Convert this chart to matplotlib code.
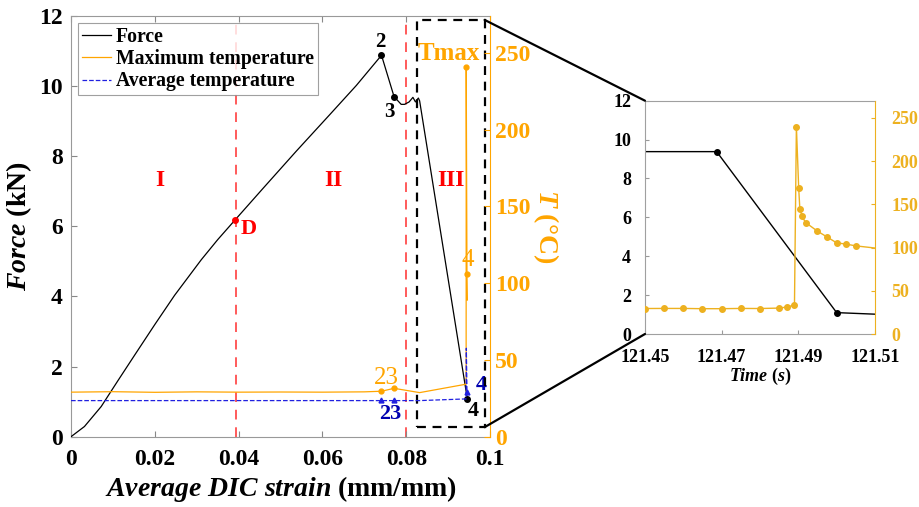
import numpy as np
import matplotlib
matplotlib.use('Agg')
import matplotlib.pyplot as plt
from matplotlib.patches import ConnectionPatch, Rectangle

plt.rcParams['font.family'] = ['Liberation Serif', 'DejaVu Serif']
plt.rcParams['font.weight'] = 'bold'
plt.rcParams['mathtext.fontset'] = 'custom'
plt.rcParams['mathtext.it'] = 'Liberation Serif:italic:bold'
plt.rcParams['mathtext.bf'] = 'Liberation Serif:bold'
plt.rcParams['mathtext.rm'] = 'Liberation Serif'

ORANGE = '#FFA500'
GOLD = '#EDB120'
BLUE = '#2020E0'
DBLUE = '#0000B0'
LRED = '#FF5A5A'

# force vs strain (main plot)
strain = [0, 0.0032, 0.0072, 0.0112, 0.0152, 0.0200, 0.0247, 0.0311, 0.0350, 0.0392,
          0.0458, 0.0538, 0.0617, 0.0681, 0.0741, 0.0771, 0.0788, 0.0796,
          0.0807, 0.0816, 0.0822, 0.0829, 0.0832, 0.0946]
force = [0, 0.29, 0.86, 1.60, 2.33, 3.20, 4.03, 5.05, 5.62, 6.19,
         7.08, 8.15, 9.18, 10.02, 10.88, 9.70, 9.48, 9.48,
         9.55, 9.68, 9.55, 9.66, 9.58, 1.07]

# maximum temperature vs strain
tmax_strain = [0, 0.01, 0.02, 0.03, 0.04, 0.05, 0.06, 0.07, 0.0741, 0.0771, 0.0832,
               0.0943, 0.09432, 0.0945, 0.0946]
tmax_temp = [29.0, 29.3, 28.9, 29.2, 29.0, 29.1, 29.0, 29.2, 29.6, 31.5, 28.7,
             34.2, 241, 106, 89]

# average temperature vs strain
avg_strain = [0, 0.0741, 0.0771, 0.0832, 0.0943, 0.09435, 0.0945, 0.0946]
avg_temp = [23.5, 23.5, 23.5, 23.5, 24.6, 57.6, 29.4, 28.5]

# key points
pt_strain = [0.0741, 0.0771, 0.0946]
pt_force = [10.88, 9.70, 1.07]
pt_tmax_strain = [0.0741, 0.0771, 0.09432, 0.0945]
pt_tmax = [29.6, 31.5, 241, 106]
pt_avg_strain = [0.0741, 0.0771, 0.0945]
pt_avg = [23.6, 23.6, 29.4]
d_strain, d_force = 0.0392, 6.19
stage_bounds = [0.0394, 0.0799]

# inset (time window)
time_f = [121.45, 121.4687, 121.500, 121.51]
force_t = [9.38, 9.38, 1.10, 1.02]
time_T = [121.450, 121.455, 121.460, 121.465, 121.470, 121.475, 121.480, 121.485,
          121.487, 121.489, 121.4895, 121.4901, 121.4904, 121.4910, 121.4919,
          121.495, 121.4976, 121.500, 121.5025, 121.505, 121.51]
temp_t = [29.5, 29.6, 29.6, 29.3, 29.3, 29.6, 29.5, 30.0, 31.2, 33.5, 240, 169,
          145, 136, 129, 119, 112, 105.5, 104, 102, 99.5]

fig = plt.figure(figsize=(9.19, 5.07), dpi=100)
ax = fig.add_axes([0.0773, 0.1387, 0.4559, 0.8297])
ax2 = ax.twinx()

ax.plot(strain, force, color='black', lw=0.9, label='Force', zorder=3)
ax.plot(pt_strain, pt_force, 'o', color='black', ms=4, zorder=4)
ax.plot([d_strain], [d_force], 'o', color='red', ms=4, zorder=4)
for xb in stage_bounds:
    ax.axvline(xb, color=LRED, ls=(0, (5, 4)), lw=1.4, zorder=1)

# legend proxies
ax.plot([], [], color=ORANGE, lw=0.9, label='Maximum temperature')
ax.plot([], [], color=BLUE, lw=0.9, ls='--', label='Average temperature')

ax2.plot(tmax_strain, tmax_temp, color=ORANGE, lw=0.9)
ax2.plot(pt_tmax_strain, pt_tmax, 'o', color=ORANGE, ms=3.5)
ax2.plot(avg_strain, avg_temp, color=BLUE, lw=0.9, ls='--')
ax2.plot(pt_avg_strain, pt_avg, '^', color=BLUE, ms=3.5)

ax.set_xlim(0, 0.1)
ax.set_ylim(0, 12)
ax2.set_ylim(0, 274)
ax.set_xticks([0, 0.02, 0.04, 0.06, 0.08, 0.1])
ax.set_xticklabels(['0', '0.02', '0.04', '0.06', '0.08', '0.1'])
ax.set_yticks([0, 2, 4, 6, 8, 10, 12])
ax2.set_yticks([0, 50, 100, 150, 200, 250])

ax.tick_params(axis='both', direction='in', labelsize=17, top=True, length=4,
               color='#888888', pad=6)
ax.tick_params(axis='x', pad=9)
ax2.tick_params(axis='y', direction='in', labelsize=17, colors=ORANGE, length=4)
for lab in ax.get_xticklabels() + ax.get_yticklabels() + ax2.get_yticklabels():
    lab.set_fontweight('bold')
for s in ['left', 'bottom', 'top']:
    ax.spines[s].set_color('#999999')
ax.spines['right'].set_visible(False)
ax2.spines['right'].set_color(ORANGE)
for s in ['left', 'bottom', 'top']:
    ax2.spines[s].set_visible(False)

ax.set_xlabel(r'$\mathbf{\it{Average\ DIC\ strain}}$ (mm/mm)', fontsize=20,
              fontweight='bold', labelpad=3)
ax.set_ylabel(r'$\mathbf{\it{Force}}$ (kN)', fontsize=20, fontweight='bold', labelpad=4)
ax2.set_ylabel(r'$\mathbf{\it{T}}$ (°C)', fontsize=20, fontweight='bold', color=ORANGE,
               rotation=270, labelpad=22)

leg = ax.legend(loc='upper left', bbox_to_anchor=(0.017, 0.984),
                prop={'weight': 'bold', 'size': 14.2}, frameon=True, fancybox=False,
                edgecolor='#888888', borderpad=0.2, labelspacing=0.12,
                handlelength=1.45, handletextpad=0.25, borderaxespad=0)
leg.get_frame().set_linewidth(0.8)
leg.set_zorder(10)

# stage labels
for txt, xs in zip(['I', 'II', 'III'], [0.0212, 0.0625, 0.0906]):
    ax.text(xs, 7.31, txt, color='red', fontsize=17, fontweight='bold',
            ha='center', va='center')

ax.text(0.0739, 11.26, '2', fontsize=15, fontweight='bold', ha='center', va='center')
ax.text(0.0760, 9.26, '3', fontsize=15, fontweight='bold', ha='center', va='center')
ax.text(0.0961, 0.72, '4', fontsize=16, fontweight='bold', ha='center', va='center')
ax.text(0.0424, 5.92, 'D', color='red', fontsize=16, fontweight='bold', ha='center', va='center')
ax.text(0.0902, 10.94, 'Tmax', color=ORANGE, fontsize=18, fontweight='bold',
        ha='center', va='center')
ax.text(0.0946, 5.03, '4', color=ORANGE, fontsize=18, fontweight='normal', ha='center', va='center')
ax.text(0.0753, 1.68, '23', color=ORANGE, fontsize=18, fontweight='normal', ha='center', va='center')
ax.text(0.0763, 0.66, '23', color=DBLUE, fontsize=16, fontweight='bold', ha='center', va='center')
ax.text(0.0978, 1.46, '4', color=DBLUE, fontsize=16, fontweight='bold', ha='center', va='center')

# zoom box
bx0, bx1, by0, by1 = 0.0826, 0.0987, 0.27, 11.89
ax.add_patch(Rectangle((bx0, by0), bx1 - bx0, by1 - by0, fill=False, ec='black',
                       ls=(0, (4, 3)), lw=1.6, zorder=5, clip_on=False))

# inset
axi = fig.add_axes([0.7018, 0.3412, 0.2503, 0.4602])
axi2 = axi.twinx()
axi.plot(time_f, force_t, color='black', lw=1.0)
axi.plot(time_f[1:3], force_t[1:3], 'o', color='black', ms=4)
axi2.plot(time_T, temp_t, color=GOLD, lw=1.0)
axi2.plot(time_T[:-1], temp_t[:-1], 'o', color=GOLD, ms=4)
axi.set_xlim(121.45, 121.51)
axi.set_ylim(0, 12)
axi2.set_ylim(0, 270)
axi.set_xticks([121.45, 121.47, 121.49, 121.51])
axi.set_xticklabels(['121.45', '121.47', '121.49', '121.51'])
axi.set_yticks([0, 2, 4, 6, 8, 10, 12])
axi2.set_yticks([0, 50, 100, 150, 200, 250])
axi.tick_params(axis='both', direction='in', labelsize=13, length=3, color='#999999', pad=10)
axi.tick_params(axis='x', pad=11)
axi2.tick_params(axis='y', direction='in', labelsize=13, colors=GOLD, length=3, pad=12)
for lab in axi.get_xticklabels() + axi.get_yticklabels() + axi2.get_yticklabels():
    lab.set_fontweight('bold')
for s in ['left', 'bottom', 'top']:
    axi.spines[s].set_color('#A0A0A0')
axi.spines['right'].set_visible(False)
axi2.spines['right'].set_color(GOLD)
for s in ['left', 'bottom', 'top']:
    axi2.spines[s].set_visible(False)
axi.set_xlabel(r'$\mathbf{\it{Time\ (s)}}$', fontsize=13, labelpad=0)

# connectors
for yb, yi in [(by1, 1), (by0, 0)]:
    cp = ConnectionPatch(xyA=(bx1, yb), coordsA=ax.transData,
                         xyB=(0, yi), coordsB=axi.transAxes,
                         color='black', lw=1.6)
    fig.add_artist(cp)

fig.savefig('out.png', dpi=100)
